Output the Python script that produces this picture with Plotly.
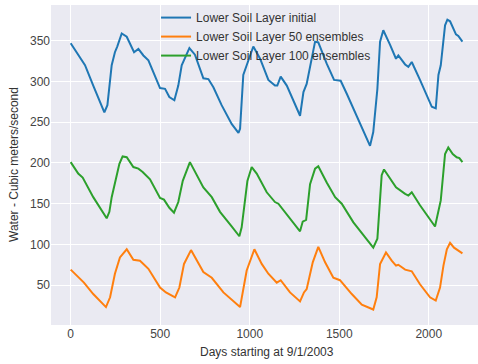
import plotly.graph_objects as go

# values (day, value) waypoints
initial_days = [0, 15, 52, 80, 126, 188, 205, 229, 247, 260, 285, 313, 354, 378, 406, 434,
                499, 527, 551, 579, 601, 620, 663, 694, 741, 769, 797, 843, 899, 937, 946,
                964, 983, 1020, 1058, 1104, 1141, 1154, 1173, 1207, 1281, 1300, 1318, 1337,
                1365, 1383, 1430, 1471, 1508, 1542, 1598, 1672, 1690, 1713, 1728, 1746, 1784,
                1817, 1830, 1868, 1886, 1905, 1951, 2017, 2039, 2054, 2067, 2091, 2104, 2119,
                2152, 2165, 2188]
initial_vals = [347, 342, 330, 320, 295, 262, 271, 320, 336, 343, 359, 355, 336, 340, 332, 326,
                292, 291, 281, 277, 295, 320, 341, 333, 304, 303, 293, 271, 248, 237, 242,
                308, 320, 343, 328, 302, 295, 295, 306, 295, 258, 287, 297, 320,
                349, 348, 322, 302, 301, 285, 258, 221, 238, 291, 349, 363, 345,
                328, 332, 321, 318, 324, 302, 269, 267, 308, 320, 369, 376, 374,
                358, 356, 349]

ens50_days = [0, 24, 52, 74, 126, 197, 220, 247, 275, 313, 350, 387, 434, 499, 532, 583, 607,
              633, 672, 704, 741, 788, 853, 946, 955, 983, 1026, 1067, 1104, 1151, 1173, 1225,
              1281, 1303, 1318, 1352, 1383, 1421, 1467, 1504, 1570, 1626, 1690, 1709, 1728,
              1761, 1793, 1817, 1830, 1868, 1905, 1951, 2007, 2039, 2063, 2082, 2101, 2119,
              2141, 2165, 2188]
ens50_vals = [69, 64, 57, 53, 39, 23, 35, 64, 84, 94, 81, 80, 70, 47, 41, 35, 47,
              76, 93, 80, 66, 59, 41, 23, 35, 68, 94, 76, 64, 53, 56, 41,
              30, 41, 45, 78, 97, 78, 59, 56, 39, 26, 20, 35, 76,
              90, 80, 74, 75, 69, 67, 51, 35, 31, 47, 74, 94, 102,
              96, 92, 89]

ens100_days = [0, 15, 42, 67, 126, 201, 216, 229, 247, 272, 290, 313, 350, 378, 402, 443, 499,
               521, 551, 577, 601, 626, 666, 704, 741, 788, 834, 899, 942, 955, 974, 987, 1011,
               1039, 1095, 1141, 1160, 1207, 1281, 1296, 1315, 1337, 1365, 1383, 1430, 1477,
               1514, 1579, 1690, 1713, 1728, 1737, 1750, 1784, 1817, 1868, 1886, 1905, 1951,
               2035, 2054, 2067, 2091, 2109, 2134, 2156, 2171, 2188]
ens100_vals = [201, 196, 187, 182, 158, 132, 140, 158, 174, 199, 208, 207, 195, 193, 189, 180, 157,
               155, 145, 139, 152, 178, 201, 185, 170, 158, 140, 122, 110, 121, 152, 178, 195,
               187, 164, 152, 150, 137, 116, 128, 130, 174, 193, 196, 176, 158,
               150, 127, 96, 107, 162, 185, 192, 180, 170, 162, 160, 164, 148,
               122, 140, 154, 211, 219, 211, 207, 206, 201]

x_ticks = [0, 500, 1000, 1500, 2000]
y_ticks = [50, 100, 150, 200, 250, 300, 350]

fig = go.Figure()
fig.add_trace(go.Scatter(x=initial_days, y=initial_vals, mode="lines",
                         name="Lower Soil Layer initial", line=dict(color="#1f77b4", width=2)))
fig.add_trace(go.Scatter(x=ens50_days, y=ens50_vals, mode="lines",
                         name="Lower Soil Layer 50 ensembles", line=dict(color="#ff7f0e", width=2)))
fig.add_trace(go.Scatter(x=ens100_days, y=ens100_vals, mode="lines",
                         name="Lower Soil Layer 100 ensembles", line=dict(color="#2ca02c", width=2)))

fig.update_layout(
    width=478, height=364,
    margin=dict(l=51, r=0, t=5, b=39),
    paper_bgcolor="white",
    plot_bgcolor="#EAEAF2",
    font=dict(family="Liberation Sans, Arial, sans-serif", size=12, color="#333333"),
    legend=dict(x=0.246, y=1.006, xanchor="left", yanchor="top",
                bgcolor="rgba(0,0,0,0)", font=dict(size=12, color="#333333"),
                tracegroupgap=0),
    xaxis=dict(range=[-110, 2275], tickvals=x_ticks, gridcolor="white", gridwidth=1,
               zeroline=False, showline=False, ticks="", automargin=False,
               tickfont=dict(size=12, color="#444444")),
    yaxis=dict(range=[1, 394], tickvals=y_ticks, gridcolor="white", gridwidth=1,
               zeroline=False, showline=False, ticks="", automargin=False,
               tickfont=dict(size=12, color="#444444")),
    annotations=[
        dict(text="Days starting at 9/1/2003", xref="x", yref="paper", x=1095, y=0,
             yshift=-27, yanchor="middle", showarrow=False, font=dict(size=12, color="#333333")),
        dict(text="Water - Cubic meters/second", xref="paper", yref="paper", x=0, y=0.5,
             xshift=-37, xanchor="center", textangle=-90, showarrow=False,
             font=dict(size=12, color="#333333")),
    ],
)

# page has a default body margin; drop it so the figure sits at the top-left corner
fig.write_html("out.html", config={"displayModeBar": False},
               post_script="document.body.style.margin='0';")
